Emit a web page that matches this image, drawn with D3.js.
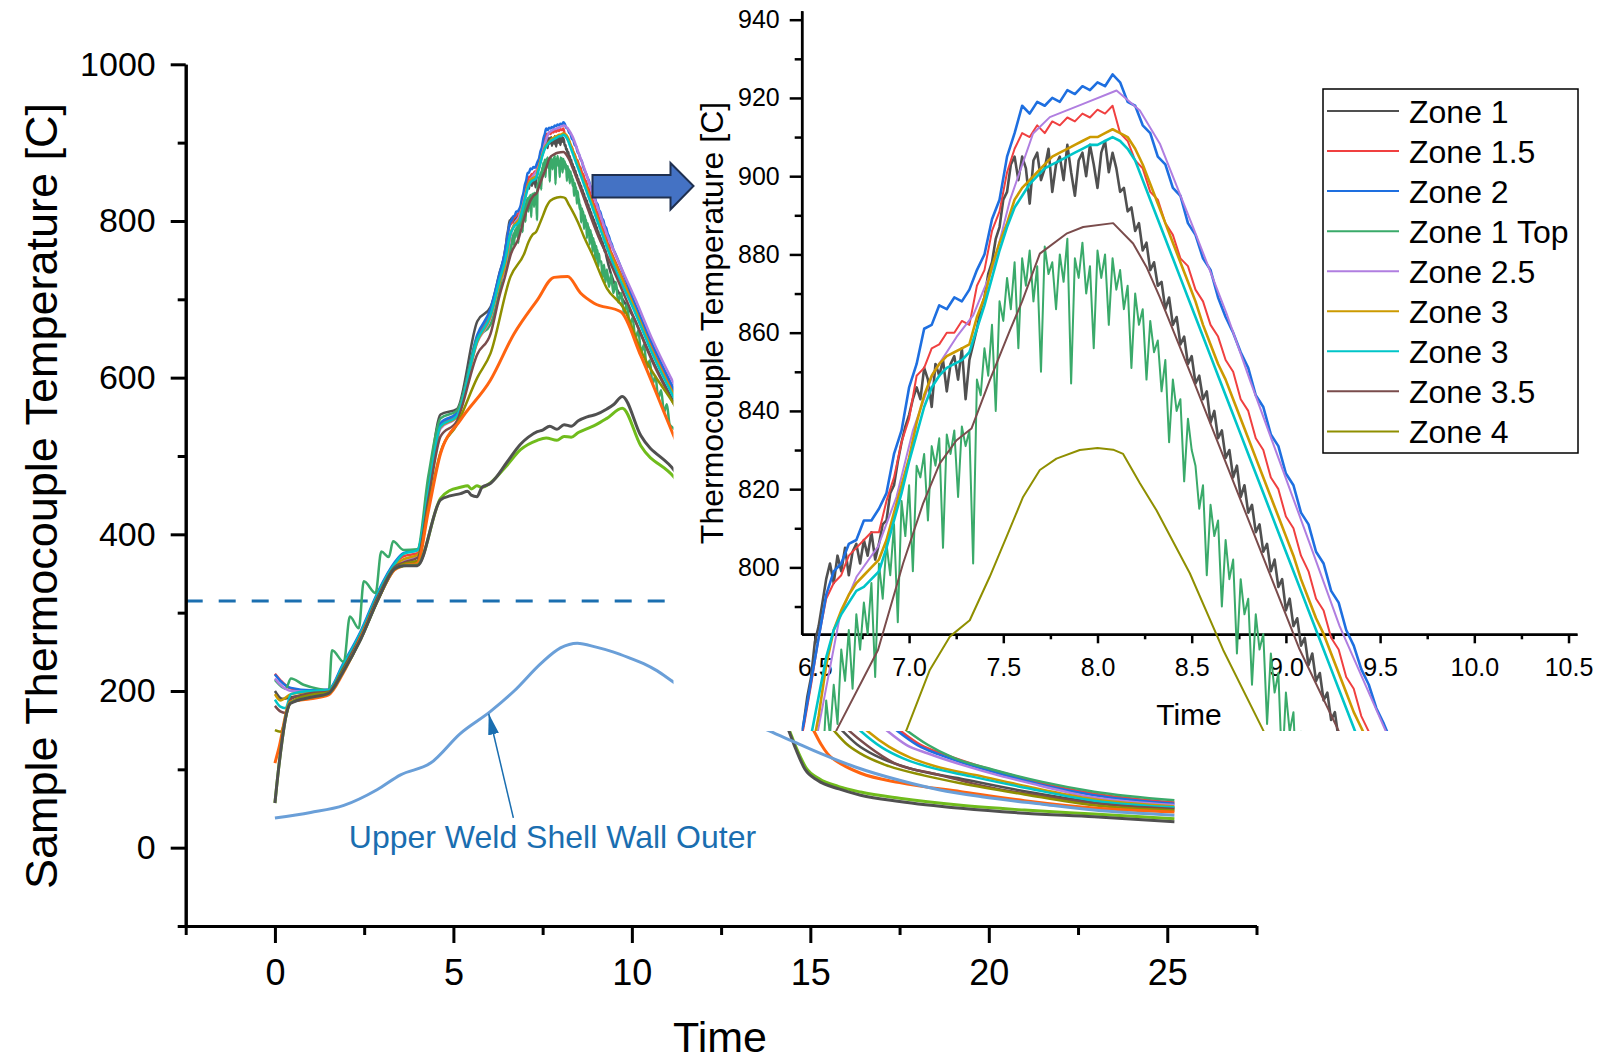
<!DOCTYPE html>
<html>
<head>
<meta charset="utf-8">
<script src="https://cdnjs.cloudflare.com/ajax/libs/d3/7.8.5/d3.min.js"></script>
<style>
  body { margin: 0; background: #fff; }
  svg { font-family: "Liberation Sans", Arial, sans-serif; }
</style>
</head>
<body>
<svg width="1600" height="1060"></svg>
<script>
// ---------- data (time, temperature) ----------
var insetStart = 6.44;
var fineStep = 0.02;
var coarseStep = 0.04;

// Zone 1
var zone1Head = [[0,200],[0.2,190],[0.45,192],[1.0,196],[1.5,198],[1.9,228],[2.4,270],[2.9,322],[3.35,360],[3.6,362],[4.0,366],[4.3,460],[4.64,553],[5.1,560],[5.67,672],[6.04,690],[6.3,735]];
var zone1Inset = [760,767,772,781,785,791,797,801,796,
  803,799,805,798,804,806,801,807,803,809,802,806,
  811,812,819,821,827,832,836,839,843,846,
  843,851,848,841,852,849,853,845,852,854,848,856,843,853,
  857,861,866,869,875,878,884,887,894,896,903,905,
  899,905,902,893,904,906,899,902,907,896,903,905,899,908,901,895,904,906,900,908,903,897,906,909,901,906,902,
  896,897,891,892,886,888,881,883,876,878,872,873,866,869,862,864,857,859,852,854,
  847,849,843,845,837,840,833,835,828,830,823,826,818,821,814,816,809,811,804,806,
  799,802,795,797,789,792,785,787,780,782,775,778,771,773,766,768,761,763,756];
var zone1Tail = [[10.1,672],[10.6,620],[11.18,568],[15.9,149],[16.3,132],[16.8,118],[17.8,101],[19.22,88],[21,72],[22.95,58.3],[25.2,50.5]];

// Zone 1.5
var zone15Head = [[0,222],[0.15,214],[0.45,203],[1.0,200],[1.5,201],[1.9,232],[2.4,274],[2.9,326],[3.35,362],[3.6,372],[4.0,376],[4.3,455],[4.64,540],[5.1,552],[5.67,652],[6.04,684],[6.3,730]];
var zone15Inset = [759,770,782,792,796,798,803,805,807,809,
  809,817,823,832,838,849,851,856,857,860,
  860,863,862,872,876,886,891,901,907,911,
  910,913,911,914,913,915,914,916,915,917,
  916,918,911,909,904,902,896,894,888,885,
  879,877,871,868,862,859,853,850,843,840,
  833,830,823,820,813,810,803,799,792,789,
  782,779,772,769,762,758];
var zone15Tail = [[10.1,688],[10.6,634],[11.18,580],[17.53,149],[18.1,131],[18.7,120],[19.6,106],[20.6,93],[21.6,81],[22.95,69],[25.2,57.8]];

// Zone 2
var zone2Head = [[0,221],[0.15,213],[0.45,204],[1.0,201],[1.5,202],[1.9,234],[2.4,276],[2.9,328],[3.35,364],[3.6,376],[4.0,380],[4.3,458],[4.64,542],[5.1,555],[5.67,655],[6.04,688],[6.3,734]];
var zone2Inset = [760,771,782,793,799,801,806,807,812,812,
  815,819,829,835,846,852,861,862,867,866,
  869,868,871,876,880,889,894,905,911,918,
  916,919,918,920,919,922,921,923,922,924,
  923,926,924,919,918,913,911,905,903,897,
  895,888,885,879,876,869,864,860,855,851,
  844,841,834,831,824,821,814,811,804,801,
  794,791,784,780,774,770,764,760];
var zone2Tail = [[10.1,693],[10.6,640],[11.18,585],[17.44,149],[18.0,131],[18.6,119],[19.5,105],[20.5,92],[21.5,80],[22.95,66.8],[25.2,56]];

// Zone 1 Top
var zone1TopHead = [[0,214],[0.2,205],[0.3,203],[0.45,216],[0.8,208],[1.2,203],[1.51,201],[1.6,252],[1.93,237],[2.1,295],[2.35,280],[2.49,340],[2.82,325],[2.98,378],[3.19,371],[3.31,391],[3.61,380],[3.99,381],[4.3,475],[4.64,548],[5.1,558],[5.67,650],[6.04,668],[6.3,712]];
var zone1TopInset = [742,736,750,741,758,748,766,757,770,760,779,771,784,769,
  788,779,791,783,796,772,801,792,806,798,811,786,817,808,821,799,826,
  823,829,812,831,826,833,805,834,829,835,818,836,831,835,801,
  848,844,856,849,862,840,868,863,874,866,878,856,
  879,872,881,868,877,850,882,875,878,866,880,873,884,847,879,874,883,870,877,856,881,874,880,862,879,871,
  876,866,872,851,870,862,866,848,863,855,858,845,853,832,848,840,843,822,838,830,
  826,815,821,798,816,808,812,790,807,797,802,778,797,788,792,770,788,779,783,760,778,768,773,748,768,758,763,741,758,749];
var zone1TopTail = [[9.14,748],[9.18,728],[9.22,744],[9.26,722],[9.3,738],[9.36,716],[9.42,732],[9.48,708],[9.55,722],[9.62,696],[9.7,708],[9.78,682],[9.86,694],[9.94,668],[10.02,676],[10.1,650],[10.18,660],[10.26,632],[10.34,642],[10.42,612],[10.5,622],[10.58,592],[10.66,602],[10.74,574],[10.82,584],[10.9,556],[10.98,566],[11.06,540],[11.18,535],[17.72,149],[18.3,131],[19.0,115],[20.15,99.2],[21.5,84],[22.95,71.5],[25.2,60.5]];

// Zone 2.5
var zone25Head = [[0,216],[0.15,208],[0.45,200],[1.0,199],[1.5,200],[1.9,226],[2.4,265],[2.9,318],[3.35,355],[3.6,365],[4.0,372],[4.3,452],[4.64,535],[5.1,550],[5.67,645],[6.04,676],[6.3,722]];
var zone25Inset = [[6.44,738],[6.517,758.4],[6.632,787.4],[6.721,797.6],[6.835,805.3],[6.933,818],[7.021,835.1],[7.127,849.6],[7.252,858.9],[7.34,864.4],[7.446,876.8],[7.535,893.8],[7.658,910.9],[7.747,915.1],[7.924,918.5],[8.101,921.9],[8.225,916.8],[8.331,908.3],[8.507,887],[8.685,864.9],[8.808,848],[9.127,806],[9.285,785],[9.534,757.7]];
var zone25Tail = [[10.1,700],[10.6,646],[11.18,592],[17.16,149],[17.7,131],[18.28,120.5],[19.3,105],[20.3,92],[21.09,83],[22.95,64],[25.2,54.5]];

// Zone 3 (gold)
var zone3Head = [[0,196],[0.15,188],[0.45,196],[1.0,199],[1.5,200],[1.9,230],[2.4,272],[2.9,324],[3.35,360],[3.6,368],[4.0,374],[4.3,452],[4.64,537],[5.1,550],[5.67,646],[6.04,678],[6.3,722]];
var zone3Inset = [742,752,762,775,784,789,793,796,798,800,
  802,807,814,821,828,837,844,849,852,854,
  855,856,857,864,869,877,883,888,894,897,
  899,901,903,905,906,907,908,909,910,910,
  911,912,911,910,907,903,898,893,888,883,
  878,873,868,862,857,852,848,843,838,833,
  828,823,818,813,808,803,797,792,787,783,
  778,773,768,763,759,755];
var zone3Tail = [[10.1,686],[10.6,631],[11.18,577],[16.6,149],[17.2,129],[17.8,115],[18.5,104],[19.7,92],[21.09,78],[22.95,61.7],[25.2,52.6]];

// Zone 3 (cyan)
var zone3bHead = [[0,189],[0.15,180],[0.3,178],[0.45,196],[1.0,200],[1.5,201],[1.9,232],[2.4,274],[2.9,326],[3.35,362],[3.6,375],[4.0,380],[4.3,455],[4.64,538],[5.1,551],[5.67,648],[6.04,680],[6.3,726]];
var zone3bInset = [748,757,767,777,784,788,791,794,795,797,
  799,805,812,819,827,834,841,846,849,851,
  852,853,855,861,867,874,881,887,892,895,
  898,900,902,903,904,905,906,907,908,908,
  909,910,909,907,904,899,894,889,884,879,
  874,869,864,859,854,849,844,839,834,829,
  824,819,814,809,804,799,794,789,784,779,
  774,769,764,759,754];
var zone3bTail = [[10.1,682],[10.6,628],[11.18,574],[16.41,149],[17.0,128],[17.6,114],[18.28,103.4],[19.5,91],[21.09,75.8],[22.95,60],[25.2,51.5]];

// Zone 3.5
var zone35Head = [[0,181],[0.15,174],[0.3,172],[0.45,190],[1.0,197],[1.5,199],[1.9,228],[2.4,270],[2.9,322],[3.35,358],[3.6,364],[4.0,370],[4.3,445],[4.64,525],[5.1,545],[5.67,630],[6.04,656],[6.3,706]];
var zone35Inset = [[6.44,728],[6.615,758.4],[6.835,778.9],[6.968,801],[7.074,816.3],[7.163,826.6],[7.252,832.5],[7.331,835.5],[7.428,847.8],[7.535,860.6],[7.6,868],[7.694,880.2],[7.835,885.3],[7.924,887],[8.083,888],[8.189,882.8],[8.26,876.8],[8.331,869],[8.507,848],[9.073,779],[9.285,757.7]];
var zone35Tail = [[10.1,672],[10.6,618],[11.18,566],[16.09,149],[16.6,130],[17.35,108],[18.5,94],[20.15,76],[21.5,66],[22.95,56.6],[25.2,49.3]];

// Zone 4
var zone4Head = [[0,150],[0.15,148],[0.45,186],[1.0,195],[1.5,198],[1.9,226],[2.4,266],[2.9,318],[3.35,355],[3.6,362],[4.0,366],[4.3,435],[4.64,505],[5.1,540],[5.67,600],[6.04,631],[6.6,729]];
var zone4Inset = [[6.986,758.4],[7.11,773.8],[7.216,782.3],[7.322,786.5],[7.428,797.6],[7.517,807.8],[7.605,818],[7.694,824.9],[7.782,827.8],[7.906,830],[8.0,830.5],[8.083,830.1],[8.136,829],[8.225,821.5],[8.313,814.6],[8.49,798.5],[8.667,778.9],[8.879,758.4]];
var zone4Tail = [[9.3,714],[9.78,688],[10.3,630],[11.18,566],[15.67,149],[16.0,133],[16.41,120],[17.2,104],[18.2,92],[19.22,82.2],[21,68],[22.95,54],[25.2,47.5]];

// other thermocouples (main chart only)
var tcOrange = [[0,108],[0.1,125],[0.43,186],[1.0,190],[1.5,195],[1.9,222],[2.4,268],[2.9,318],[3.33,354],[3.6,360],[3.99,363],[4.3,430],[4.64,503],[5.2,546],[6.04,597],[6.7,656],[7.35,699],[7.82,728],[8.2,729],[8.56,708],[8.94,695],[9.69,684],[10.25,628],[11.18,525],[15.1,149],[15.3,132],[15.48,120],[15.9,106],[16.41,95],[17.5,83],[19.22,71.5],[21,60],[22.95,50.6],[25.2,45.5]];
var tcGray = [[0,57],[0.1,100],[0.43,184],[1.0,192],[1.5,197],[1.9,224],[2.4,266],[2.9,318],[3.35,356],[3.6,360],[3.99,360],[4.64,444],[4.9,449],[5.2,452],[5.4,455],[5.5,450],[5.66,448],[5.8,460],[6.04,465],[6.13,469],[6.5,492],[6.88,515],[7.1,524],[7.35,531],[7.5,533],[7.7,538],[7.9,534],[8.1,540],[8.3,538],[8.5,545],[8.75,550],[9.0,553],[9.3,560],[9.5,566],[9.73,576],[10.25,526],[11.18,482],[14.4,149],[14.6,125],[14.85,100],[15.2,86],[15.8,75],[16.41,67],[17.5,59],[19.22,50.3],[21,44],[22.95,39.6],[25.2,33.2]];
var tcLime = [[0,57],[0.1,100],[0.43,185],[1.0,192],[1.5,197],[1.9,224],[2.4,266],[2.9,318],[3.35,356],[3.6,360],[3.99,361],[4.64,446],[4.9,456],[5.2,460],[5.4,462],[5.5,458],[5.66,462],[5.8,460],[6.04,466],[6.5,488],[6.88,508],[7.35,520],[7.6,523],[7.9,520],[8.1,525],[8.3,524],[8.5,530],[8.75,535],[9.0,540],[9.3,548],[9.73,561],[10.25,513],[11.18,473],[14.42,149],[14.62,126],[14.88,102],[15.25,88],[15.8,78],[16.41,71],[17.5,63],[19.22,54],[21,48],[22.95,43],[25.2,37]];
var shellWall = [[0,38],[1.0,45],[1.93,54],[2.86,74],[3.52,93],[4.36,108],[5.2,146],[6.04,174],[6.7,200],[7.47,236],[8.0,255],[8.47,261],[9.0,256],[9.47,250],[10.0,241],[10.33,235],[10.7,226],[11.18,211],[13.85,149],[14.5,136],[15.3,120],[16.26,103],[17.5,86],[18.6,74],[19.8,65],[21.5,55.5],[22.95,48.1],[25.2,41.5]];

var thresholdTemp = 315;
var annotTip = [5.99, 171];
var annotTail = [6.68, 38];
var annotTextAt = [2.07, 0];

var legendNames = ["Zone 1", "Zone 1.5", "Zone 2", "Zone 1 Top", "Zone 2.5", "Zone 3", "Zone 3", "Zone 3.5", "Zone 4"];
var legendColors = ["#505050", "#f04040", "#1e6fe0", "#3aaa6a", "#b07ee0", "#cc9a00", "#00c5c8", "#7a4c4c", "#8f8f00"];

var mainXMajor = [0, 5, 10, 15, 20, 25];
var mainXMinor = [-2.5, 2.5, 7.5, 12.5, 17.5, 22.5, 27.5];
var mainYMajor = [0, 200, 400, 600, 800, 1000];
var mainYMinor = [-100, 100, 300, 500, 700, 900];
var insetXMajor = [6.5, 7.0, 7.5, 8.0, 8.5, 9.0, 9.5, 10.0, 10.5];
var insetXMinor = [6.75, 7.25, 7.75, 8.25, 8.75, 9.25, 9.75, 10.25];
var insetYMajor = [800, 820, 840, 860, 880, 900, 920, 940];
var insetYMinor = [790, 810, 830, 850, 870, 890, 910, 930];

// ---------- build ----------
function onGrid(values, step) {
  return values.map(function (v, i) { return [insetStart + i * step, v]; });
}

var zoneSeries = [
  zone1Head.concat(onGrid(zone1Inset, fineStep), zone1Tail),
  zone15Head.concat(onGrid(zone15Inset, coarseStep), zone15Tail),
  zone2Head.concat(onGrid(zone2Inset, coarseStep), zone2Tail),
  zone1TopHead.concat(onGrid(zone1TopInset, fineStep), zone1TopTail),
  zone25Head.concat(zone25Inset, zone25Tail),
  zone3Head.concat(onGrid(zone3Inset, coarseStep), zone3Tail),
  zone3bHead.concat(onGrid(zone3bInset, coarseStep), zone3bTail),
  zone35Head.concat(zone35Inset, zone35Tail),
  zone4Head.concat(zone4Inset, zone4Tail)
];

var svg = d3.select("svg");

var xMain = d3.scaleLinear().domain([-2.5, 27.5]).range([185.7, 1256.5]);
var yMain = d3.scaleLinear().domain([-100, 1000]).range([926, 64.3]);
var xIn = d3.scaleLinear().domain([6.43, 10.545]).range([801.7, 1577]);
var yIn = d3.scaleLinear().domain([782.9, 942.3]).range([634.3, 10.7]);

drawMain();
drawInset();
drawOverlay();

function styleAxis(g, width, fontSize) {
  g.selectAll("path, line").attr("stroke", "#000").attr("stroke-width", width);
  g.selectAll("text").attr("fill", "#000").style("font-size", fontSize + "px")
    .style("font-family", "'Liberation Sans', Arial, sans-serif");
}

function drawMain() {
  var line = d3.line()
    .x(function (d) { return xMain(d[0]); })
    .y(function (d) { return yMain(d[1]); })
    .curve(d3.curveMonotoneX);

  // threshold
  svg.append("line")
    .attr("x1", xMain(-2.5)).attr("x2", xMain(27.5))
    .attr("y1", yMain(thresholdTemp)).attr("y2", yMain(thresholdTemp))
    .attr("stroke", "#1b6fb0").attr("stroke-width", 3)
    .attr("stroke-dasharray", "17,16");

  var g = svg.append("g").attr("class", "main-lines");
  zoneSeries.forEach(function (s, i) {
    g.append("path").datum(s).attr("d", line)
      .attr("fill", "none").attr("stroke", legendColors[i])
      .attr("stroke-width", 2.5).attr("stroke-linejoin", "round");
  });
  [[tcOrange, "#ff6410", 3], [tcLime, "#70bc1c", 3], [tcGray, "#505050", 3], [shellWall, "#6a9fd8", 3]]
    .forEach(function (s) {
      g.append("path").datum(s[0]).attr("d", line)
        .attr("fill", "none").attr("stroke", s[1])
        .attr("stroke-width", s[2]).attr("stroke-linejoin", "round");
    });

  // axes
  var gxMinor = svg.append("g").attr("transform", "translate(0,926)")
    .call(d3.axisBottom(xMain).tickValues(mainXMinor).tickSize(9).tickSizeOuter(0).tickFormat(""));
  styleAxis(gxMinor, 3, 34);
  var gx = svg.append("g").attr("transform", "translate(0,926)")
    .call(d3.axisBottom(xMain).tickValues(mainXMajor).tickSize(17).tickSizeOuter(0).tickPadding(16));
  styleAxis(gx, 3, 36);

  var gyMinor = svg.append("g").attr("transform", "translate(185.7,0)")
    .call(d3.axisLeft(yMain).tickValues(mainYMinor).tickSize(8).tickSizeOuter(0).tickFormat(""));
  styleAxis(gyMinor, 3, 34);
  var gy = svg.append("g").attr("transform", "translate(185.7,0)")
    .call(d3.axisLeft(yMain).tickValues(mainYMajor).tickSize(15).tickSizeOuter(0)
      .tickPadding(15).tickFormat(d3.format("d")));
  styleAxis(gy, 3, 34);

  svg.append("text")
    .attr("transform", "translate(57,496) rotate(-90)")
    .attr("text-anchor", "middle")
    .style("font-size", "45px")
    .text("Sample Thermocouple Temperature [C]");

  svg.append("text")
    .attr("x", 720).attr("y", 1052)
    .attr("text-anchor", "middle")
    .style("font-size", "43px")
    .text("Time");

  // annotation
  var defs = svg.append("defs");
  defs.append("marker")
    .attr("id", "annotHead")
    .attr("viewBox", "0 0 10 10")
    .attr("refX", 10).attr("refY", 5)
    .attr("markerUnits", "userSpaceOnUse")
    .attr("markerWidth", 21).attr("markerHeight", 11)
    .attr("preserveAspectRatio", "none")
    .attr("orient", "auto")
    .append("path").attr("d", "M0,0 L10,5 L0,10 Z").attr("fill", "#1a6eb0");

  svg.append("line")
    .attr("x1", xMain(annotTail[0])).attr("y1", yMain(annotTail[1]))
    .attr("x2", xMain(annotTip[0])).attr("y2", yMain(annotTip[1]))
    .attr("stroke", "#1a6eb0").attr("stroke-width", 1.5)
    .attr("marker-end", "url(#annotHead)");

  svg.append("text")
    .attr("x", xMain(annotTextAt[0])).attr("y", yMain(annotTextAt[1]))
    .attr("fill", "#1a6eb0")
    .style("font-size", "32px")
    .text("Upper Weld Shell Wall Outer");
}

function drawInset() {
  // white background of the inset hides the main chart behind it
  svg.append("rect")
    .attr("x", 673.5).attr("y", 0)
    .attr("width", 1600 - 673.5).attr("height", 731)
    .attr("fill", "#fff");

  var gxMinor = svg.append("g").attr("transform", "translate(0,634.3)")
    .call(d3.axisBottom(xIn).tickValues(insetXMinor).tickSize(5).tickSizeOuter(0).tickFormat(""));
  styleAxis(gxMinor, 2.5, 25);
  var gx = svg.append("g").attr("transform", "translate(0,634.3)")
    .call(d3.axisBottom(xIn).tickValues(insetXMajor).tickSize(9).tickSizeOuter(0)
      .tickPadding(15).tickFormat(d3.format(".1f")));
  styleAxis(gx, 2.5, 25);

  var gyMinor = svg.append("g").attr("transform", "translate(801.7,0)")
    .call(d3.axisLeft(yIn).tickValues(insetYMinor).tickSize(7).tickSizeOuter(0).tickFormat(""));
  styleAxis(gyMinor, 2.5, 25);
  var gy = svg.append("g").attr("transform", "translate(801.7,0)")
    .call(d3.axisLeft(yIn).tickValues(insetYMajor).tickSize(12).tickSizeOuter(0).tickPadding(10));
  styleAxis(gy, 2.5, 25);

  svg.append("text")
    .attr("transform", "translate(723,323) rotate(-90)")
    .attr("text-anchor", "middle")
    .style("font-size", "32px")
    .text("Thermocouple Temperature [C]");

  svg.append("text")
    .attr("x", 1189).attr("y", 725)
    .attr("text-anchor", "middle")
    .style("font-size", "30px")
    .text("Time");

  svg.append("clipPath").attr("id", "insetClip")
    .append("rect").attr("x", 801.7).attr("y", 0).attr("width", 798).attr("height", 731);

  var line = d3.line()
    .x(function (d) { return xIn(d[0]); })
    .y(function (d) { return yIn(d[1]); });

  var g = svg.append("g").attr("clip-path", "url(#insetClip)");
  zoneSeries.forEach(function (s, i) {
    var pts = s.filter(function (d) { return d[0] > 6.2 && d[0] < 10.2; });
    g.append("path").datum(pts).attr("d", line)
      .attr("fill", "none").attr("stroke", legendColors[i])
      .attr("stroke-width", (i === 0 || i === 2 || i === 5 || i === 6) ? 2.6 : 2)
      .attr("stroke-linejoin", "round");
  });

  // legend
  var lg = svg.append("g").attr("transform", "translate(1323,89)");
  lg.append("rect").attr("width", 255).attr("height", 364)
    .attr("fill", "#fff").attr("stroke", "#000").attr("stroke-width", 1.5);
  legendNames.forEach(function (name, i) {
    var y = 22 + i * 40.05;
    lg.append("line").attr("x1", 4).attr("x2", 76).attr("y1", y).attr("y2", y)
      .attr("stroke", legendColors[i]).attr("stroke-width", 2);
    lg.append("text").attr("x", 86).attr("y", y).attr("dy", "0.36em")
      .style("font-size", "32px").text(name);
  });
}

function drawOverlay() {
  // block arrow pointing from the peak to the inset
  svg.append("path")
    .attr("d", "M592.5,175 L670.5,175 L670.5,163 L693.5,186 L670.5,209.5 L670.5,197.5 L592.5,197.5 Z")
    .attr("fill", "#4472c4").attr("stroke", "#1f3050").attr("stroke-width", 2);
}
</script>
</body>
</html>
